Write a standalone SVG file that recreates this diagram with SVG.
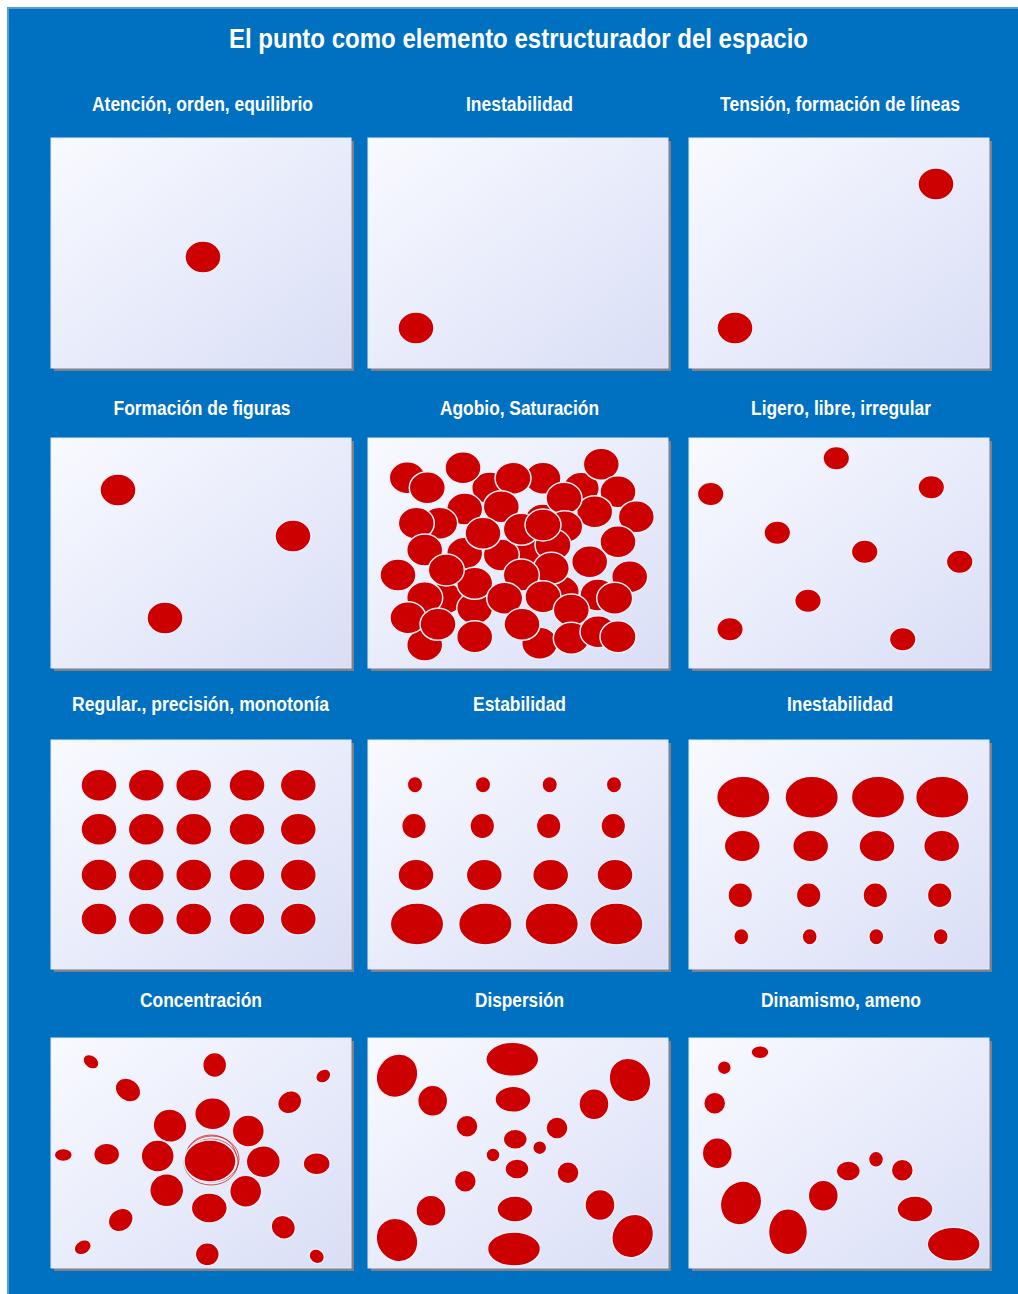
<svg xmlns="http://www.w3.org/2000/svg" width="1018" height="1294" viewBox="0 0 1018 1294">
<defs>
<linearGradient id="pg" x1="0" y1="0" x2="1" y2="1">
<stop offset="0" stop-color="#F9FAFF"/>
<stop offset="1" stop-color="#D9DEF6"/>
</linearGradient>
<style>
.bg{fill:#0070C0;stroke:#5B9BD5;stroke-width:2}
.sh{fill:#80808C}
.pn{fill:url(#pg);stroke:#E4E9F8;stroke-width:1}
.d{fill:#CC0000;stroke:#EAF0FA;stroke-width:1.5}
.ttl{font-family:"Liberation Sans",Arial,sans-serif;font-weight:bold;fill:#FFFFFF;text-anchor:middle}
.t1{font-size:27px}
.t2{font-size:20px}
.ring{fill:none;stroke:#CC0000;stroke-width:0.9;opacity:0.75}
</style>
</defs>
<rect x="0" y="0" width="1018" height="1294" fill="#FFFFFF"/>
<rect class="bg" x="8" y="8" width="1016" height="1292"/>
<text class="ttl t1" x="518.5" y="48" textLength="579" lengthAdjust="spacingAndGlyphs">El punto como elemento estructurador del espacio</text>

<g id="p1">
<text class="ttl t2" x="202.5" y="111" textLength="221" lengthAdjust="spacingAndGlyphs">Atención, orden, equilibrio</text>
<rect class="sh" x="54" y="141" width="300" height="230"/>
<rect class="pn" x="51" y="138" width="300" height="230"/>
<ellipse class="d" cx="203" cy="257" rx="18" ry="16"/>
</g>

<g id="p2">
<text class="ttl t2" x="519.5" y="111" textLength="107" lengthAdjust="spacingAndGlyphs">Inestabilidad</text>
<rect class="sh" x="371" y="141" width="300" height="230"/>
<rect class="pn" x="368" y="138" width="300" height="230"/>
<ellipse class="d" cx="416" cy="328" rx="18" ry="16"/>
</g>

<g id="p3">
<text class="ttl t2" x="840" y="111" textLength="240" lengthAdjust="spacingAndGlyphs">Tensión, formación de líneas</text>
<rect class="sh" x="692" y="141" width="300" height="230"/>
<rect class="pn" x="689" y="138" width="300" height="230"/>
<ellipse class="d" cx="936" cy="184" rx="18" ry="16"/>
<ellipse class="d" cx="735" cy="328" rx="18" ry="16"/>
</g>

<g id="p4">
<text class="ttl t2" x="202" y="415" textLength="177" lengthAdjust="spacingAndGlyphs">Formación de figuras</text>
<rect class="sh" x="54" y="441" width="300" height="230"/>
<rect class="pn" x="51" y="438" width="300" height="230"/>
<ellipse class="d" cx="118" cy="490" rx="18" ry="16"/>
<ellipse class="d" cx="293" cy="536" rx="18" ry="16"/>
<ellipse class="d" cx="165" cy="618" rx="18" ry="16"/>
</g>

<g id="p5">
<text class="ttl t2" x="519.5" y="415" textLength="159" lengthAdjust="spacingAndGlyphs">Agobio, Saturación</text>
<rect class="sh" x="371" y="441" width="300" height="230"/>
<rect class="pn" x="368" y="438" width="300" height="230"/>
<g>
<ellipse class="d" cx="489.7" cy="488" rx="18" ry="16"/>
<ellipse class="d" cx="581.3" cy="488.3" rx="18" ry="16"/>
<ellipse class="d" cx="543" cy="520" rx="18" ry="16"/>
<ellipse class="d" cx="464.7" cy="553.3" rx="18" ry="16"/>
<ellipse class="d" cx="444.7" cy="598.3" rx="18" ry="16"/>
<ellipse class="d" cx="561.3" cy="591.7" rx="18" ry="16"/>
<ellipse class="d" cx="598" cy="595" rx="18" ry="16"/>
<ellipse class="d" cx="474.7" cy="608.3" rx="18" ry="16"/>
<ellipse class="d" cx="407.3" cy="477.7" rx="18" ry="16"/>
<ellipse class="d" cx="463" cy="467.7" rx="18" ry="16"/>
<ellipse class="d" cx="543" cy="478.3" rx="18" ry="16"/>
<ellipse class="d" cx="601.3" cy="464.3" rx="18" ry="16"/>
<ellipse class="d" cx="427.3" cy="487.7" rx="18" ry="16"/>
<ellipse class="d" cx="513" cy="478.3" rx="18" ry="16"/>
<ellipse class="d" cx="618" cy="491.7" rx="18" ry="16"/>
<ellipse class="d" cx="464.7" cy="509" rx="18" ry="16"/>
<ellipse class="d" cx="501.3" cy="506.7" rx="18" ry="16"/>
<ellipse class="d" cx="594.7" cy="511.7" rx="18" ry="16"/>
<ellipse class="d" cx="564" cy="498.3" rx="18" ry="16"/>
<ellipse class="d" cx="636.3" cy="516.7" rx="18" ry="16"/>
<ellipse class="d" cx="439.7" cy="523.3" rx="18" ry="16"/>
<ellipse class="d" cx="416.3" cy="523.3" rx="18" ry="16"/>
<ellipse class="d" cx="564.7" cy="526.7" rx="18" ry="16"/>
<ellipse class="d" cx="618" cy="541.7" rx="18" ry="16"/>
<ellipse class="d" cx="528" cy="550" rx="18" ry="16"/>
<ellipse class="d" cx="501.3" cy="555" rx="18" ry="16"/>
<ellipse class="d" cx="553" cy="545" rx="18" ry="16"/>
<ellipse class="d" cx="521.3" cy="529.3" rx="18" ry="16"/>
<ellipse class="d" cx="543" cy="525" rx="18" ry="16"/>
<ellipse class="d" cx="483" cy="533.3" rx="18" ry="16"/>
<ellipse class="d" cx="424.7" cy="550" rx="18" ry="16"/>
<ellipse class="d" cx="589.7" cy="561.7" rx="18" ry="16"/>
<ellipse class="d" cx="398" cy="575" rx="18" ry="16"/>
<ellipse class="d" cx="474.7" cy="583.3" rx="18" ry="16"/>
<ellipse class="d" cx="551.3" cy="568.3" rx="18" ry="16"/>
<ellipse class="d" cx="629.7" cy="576.7" rx="18" ry="16"/>
<ellipse class="d" cx="446.3" cy="570" rx="18" ry="16"/>
<ellipse class="d" cx="521.3" cy="575" rx="18" ry="16"/>
<ellipse class="d" cx="424.7" cy="597.7" rx="18" ry="16"/>
<ellipse class="d" cx="504.7" cy="598.3" rx="18" ry="16"/>
<ellipse class="d" cx="543" cy="596.7" rx="18" ry="16"/>
<ellipse class="d" cx="571.3" cy="610" rx="18" ry="16"/>
<ellipse class="d" cx="614.7" cy="598.3" rx="18" ry="16"/>
<ellipse class="d" cx="424.7" cy="645" rx="18" ry="16"/>
<ellipse class="d" cx="408" cy="617.7" rx="18" ry="16"/>
<ellipse class="d" cx="438" cy="624.3" rx="18" ry="16"/>
<ellipse class="d" cx="474.7" cy="636.7" rx="18" ry="16"/>
<ellipse class="d" cx="539.7" cy="643.3" rx="18" ry="16"/>
<ellipse class="d" cx="522" cy="624.3" rx="18" ry="16"/>
<ellipse class="d" cx="571.3" cy="638.3" rx="18" ry="16"/>
<ellipse class="d" cx="598" cy="631.7" rx="18" ry="16"/>
<ellipse class="d" cx="618" cy="636.7" rx="18" ry="16"/>
</g>
</g>

<g id="p6">
<text class="ttl t2" x="841" y="415" textLength="180" lengthAdjust="spacingAndGlyphs">Ligero, libre, irregular</text>
<rect class="sh" x="692" y="441" width="300" height="230"/>
<rect class="pn" x="689" y="438" width="300" height="230"/>
<ellipse class="d" cx="836.3" cy="458.3" rx="13.3" ry="11.7"/>
<ellipse class="d" cx="710.7" cy="494" rx="13.3" ry="11.7"/>
<ellipse class="d" cx="931.3" cy="487.3" rx="13.3" ry="11.7"/>
<ellipse class="d" cx="777.3" cy="532.7" rx="13.3" ry="11.7"/>
<ellipse class="d" cx="864.7" cy="551.7" rx="13.3" ry="11.7"/>
<ellipse class="d" cx="959.7" cy="561.7" rx="13.3" ry="11.7"/>
<ellipse class="d" cx="808" cy="600.7" rx="13.3" ry="11.7"/>
<ellipse class="d" cx="730" cy="629.3" rx="13.3" ry="11.7"/>
<ellipse class="d" cx="902.7" cy="639.3" rx="13.3" ry="11.7"/>
</g>

<g id="p7">
<text class="ttl t2" x="200.5" y="711" textLength="257" lengthAdjust="spacingAndGlyphs">Regular., precisión, monotonía</text>
<rect class="sh" x="54" y="743" width="300" height="229"/>
<rect class="pn" x="51" y="740" width="300" height="229"/>
<ellipse class="d" cx="99" cy="785.3" rx="18" ry="16"/>
<ellipse class="d" cx="146.3" cy="785.3" rx="18" ry="16"/>
<ellipse class="d" cx="193.7" cy="785.3" rx="18" ry="16"/>
<ellipse class="d" cx="247" cy="785.3" rx="18" ry="16"/>
<ellipse class="d" cx="298.3" cy="785.3" rx="18" ry="16"/>
<ellipse class="d" cx="99" cy="829.3" rx="18" ry="16"/>
<ellipse class="d" cx="146.3" cy="829.3" rx="18" ry="16"/>
<ellipse class="d" cx="193.7" cy="829.3" rx="18" ry="16"/>
<ellipse class="d" cx="247" cy="829.3" rx="18" ry="16"/>
<ellipse class="d" cx="298.3" cy="829.3" rx="18" ry="16"/>
<ellipse class="d" cx="99" cy="875" rx="18" ry="16"/>
<ellipse class="d" cx="146.3" cy="875" rx="18" ry="16"/>
<ellipse class="d" cx="193.7" cy="875" rx="18" ry="16"/>
<ellipse class="d" cx="247" cy="875" rx="18" ry="16"/>
<ellipse class="d" cx="298.3" cy="875" rx="18" ry="16"/>
<ellipse class="d" cx="99" cy="919" rx="18" ry="16"/>
<ellipse class="d" cx="146.3" cy="919" rx="18" ry="16"/>
<ellipse class="d" cx="193.7" cy="919" rx="18" ry="16"/>
<ellipse class="d" cx="247" cy="919" rx="18" ry="16"/>
<ellipse class="d" cx="298.3" cy="919" rx="18" ry="16"/>
</g>

<g id="p8">
<text class="ttl t2" x="519.5" y="711" textLength="93" lengthAdjust="spacingAndGlyphs">Estabilidad</text>
<rect class="sh" x="371" y="743" width="300" height="229"/>
<rect class="pn" x="368" y="740" width="300" height="229"/>
<ellipse class="d" cx="415" cy="784.7" rx="7.7" ry="8.3"/>
<ellipse class="d" cx="483" cy="784.7" rx="7.7" ry="8.3"/>
<ellipse class="d" cx="549.7" cy="784.7" rx="7.7" ry="8.3"/>
<ellipse class="d" cx="614" cy="784.7" rx="7.7" ry="8.3"/>
<ellipse class="d" cx="414" cy="826" rx="12.3" ry="12.7"/>
<ellipse class="d" cx="482.3" cy="826" rx="12.3" ry="12.7"/>
<ellipse class="d" cx="548.7" cy="826" rx="12.3" ry="12.7"/>
<ellipse class="d" cx="613.3" cy="826" rx="12.3" ry="12.7"/>
<ellipse class="d" cx="416" cy="875" rx="18" ry="15.7"/>
<ellipse class="d" cx="484.3" cy="875" rx="18" ry="15.7"/>
<ellipse class="d" cx="550.7" cy="875" rx="18" ry="15.7"/>
<ellipse class="d" cx="615" cy="875" rx="18" ry="15.7"/>
<ellipse class="d" cx="417" cy="924" rx="26.7" ry="21"/>
<ellipse class="d" cx="485.3" cy="924" rx="26.7" ry="21"/>
<ellipse class="d" cx="551.7" cy="924" rx="26.7" ry="21"/>
<ellipse class="d" cx="616.3" cy="924" rx="26.7" ry="21"/>
</g>

<g id="p9">
<text class="ttl t2" x="840" y="711" textLength="106" lengthAdjust="spacingAndGlyphs">Inestabilidad</text>
<rect class="sh" x="692" y="743" width="300" height="229"/>
<rect class="pn" x="689" y="740" width="300" height="229"/>
<ellipse class="d" cx="743.3" cy="797.3" rx="26.7" ry="21"/>
<ellipse class="d" cx="811.7" cy="797.3" rx="26.7" ry="21"/>
<ellipse class="d" cx="878" cy="797.3" rx="26.7" ry="21"/>
<ellipse class="d" cx="942.3" cy="797.3" rx="26.7" ry="21"/>
<ellipse class="d" cx="742.3" cy="846" rx="18" ry="15.7"/>
<ellipse class="d" cx="810.7" cy="846" rx="18" ry="15.7"/>
<ellipse class="d" cx="877" cy="846" rx="18" ry="15.7"/>
<ellipse class="d" cx="941.7" cy="846" rx="18" ry="15.7"/>
<ellipse class="d" cx="740.3" cy="895.3" rx="12.3" ry="12.5"/>
<ellipse class="d" cx="808.7" cy="895.3" rx="12.3" ry="12.5"/>
<ellipse class="d" cx="875.3" cy="895.3" rx="12.3" ry="12.5"/>
<ellipse class="d" cx="939.7" cy="895.3" rx="12.3" ry="12.5"/>
<ellipse class="d" cx="741.3" cy="936.7" rx="7.5" ry="8.3"/>
<ellipse class="d" cx="809.7" cy="936.7" rx="7.5" ry="8.3"/>
<ellipse class="d" cx="876.3" cy="936.7" rx="7.5" ry="8.3"/>
<ellipse class="d" cx="940.7" cy="936.7" rx="7.5" ry="8.3"/>
</g>

<g id="p10">
<text class="ttl t2" x="201" y="1007" textLength="122" lengthAdjust="spacingAndGlyphs">Concentración</text>
<rect class="sh" x="54" y="1041" width="300" height="230"/>
<rect class="pn" x="51" y="1038" width="300" height="230"/>
<ellipse class="d" cx="91" cy="1061.7" rx="8.7" ry="6.5" transform="rotate(35 91 1061.7)"/>
<ellipse class="d" cx="214.7" cy="1065" rx="12" ry="12.5"/>
<ellipse class="d" cx="323.3" cy="1076" rx="8" ry="6.5" transform="rotate(-35 323.3 1076)"/>
<ellipse class="d" cx="128" cy="1090" rx="13.5" ry="11" transform="rotate(35 128 1090)"/>
<ellipse class="d" cx="289.7" cy="1102.3" rx="12.5" ry="11" transform="rotate(-35 289.7 1102.3)"/>
<ellipse class="d" cx="212.7" cy="1113.7" rx="18" ry="16"/>
<ellipse class="d" cx="170" cy="1125.7" rx="17" ry="16.5" transform="rotate(30 170 1125.7)"/>
<ellipse class="d" cx="248.3" cy="1131" rx="16" ry="16"/>
<ellipse class="d" cx="157.7" cy="1156" rx="16.5" ry="16"/>
<ellipse class="d" cx="263.3" cy="1161.7" rx="17" ry="16"/>
<ellipse class="d" cx="106.7" cy="1154.3" rx="13" ry="11"/>
<ellipse class="d" cx="63.3" cy="1155" rx="9" ry="6.5"/>
<ellipse class="d" cx="316.7" cy="1163.7" rx="13.5" ry="11"/>
<ellipse class="d" cx="166.7" cy="1190.3" rx="17" ry="16.5"/>
<ellipse class="d" cx="245.7" cy="1191.3" rx="16" ry="16"/>
<ellipse class="d" cx="209.3" cy="1208" rx="18" ry="15"/>
<ellipse class="d" cx="120.7" cy="1220" rx="13" ry="11" transform="rotate(-35 120.7 1220)"/>
<ellipse class="d" cx="283.3" cy="1227.3" rx="12.5" ry="11.5" transform="rotate(40 283.3 1227.3)"/>
<ellipse class="d" cx="82.7" cy="1247.3" rx="9" ry="7" transform="rotate(-30 82.7 1247.3)"/>
<ellipse class="d" cx="207.3" cy="1254.3" rx="12" ry="11.5"/>
<ellipse class="d" cx="316.7" cy="1256.3" rx="8" ry="7" transform="rotate(35 316.7 1256.3)"/>
<ellipse class="ring" cx="211" cy="1157" rx="25" ry="22"/>
<ellipse class="ring" cx="212" cy="1159" rx="27" ry="23"/>
<ellipse class="ring" cx="211" cy="1162" rx="27" ry="23"/>
<ellipse class="d" cx="210" cy="1161" rx="26" ry="21"/>
</g>

<g id="p11">
<text class="ttl t2" x="519.5" y="1007" textLength="89" lengthAdjust="spacingAndGlyphs">Dispersión</text>
<rect class="sh" x="371" y="1041" width="300" height="230"/>
<rect class="pn" x="368" y="1038" width="300" height="230"/>
<ellipse class="d" cx="397" cy="1075.7" rx="20" ry="22.5" transform="rotate(35 397 1075.7)"/>
<ellipse class="d" cx="512.3" cy="1059.3" rx="26.5" ry="17"/>
<ellipse class="d" cx="630" cy="1080" rx="20" ry="22.5" transform="rotate(-35 630 1080)"/>
<ellipse class="d" cx="432.7" cy="1100.7" rx="15" ry="15.5"/>
<ellipse class="d" cx="513" cy="1099.3" rx="18" ry="13"/>
<ellipse class="d" cx="594" cy="1104.3" rx="15" ry="15.5"/>
<ellipse class="d" cx="467" cy="1126.3" rx="11" ry="11"/>
<ellipse class="d" cx="557" cy="1128" rx="11" ry="11"/>
<ellipse class="d" cx="515.3" cy="1139.3" rx="12" ry="10"/>
<ellipse class="d" cx="539.7" cy="1147.7" rx="7" ry="7"/>
<ellipse class="d" cx="493" cy="1155" rx="7" ry="7"/>
<ellipse class="d" cx="517" cy="1169" rx="12" ry="10"/>
<ellipse class="d" cx="568" cy="1172.7" rx="11" ry="11"/>
<ellipse class="d" cx="465.3" cy="1181.3" rx="11" ry="11"/>
<ellipse class="d" cx="431" cy="1210.7" rx="15" ry="15.5"/>
<ellipse class="d" cx="515" cy="1209" rx="18" ry="13"/>
<ellipse class="d" cx="600" cy="1205" rx="15" ry="15.5"/>
<ellipse class="d" cx="397" cy="1240" rx="20" ry="22.5" transform="rotate(-35 397 1240)"/>
<ellipse class="d" cx="514" cy="1249" rx="26.5" ry="17"/>
<ellipse class="d" cx="632.7" cy="1236" rx="20" ry="22.5" transform="rotate(35 632.7 1236)"/>
</g>

<g id="p12">
<text class="ttl t2" x="841" y="1007" textLength="160" lengthAdjust="spacingAndGlyphs">Dinamismo, ameno</text>
<rect class="sh" x="692" y="1041" width="300" height="230"/>
<rect class="pn" x="689" y="1038" width="300" height="230"/>
<ellipse class="d" cx="760" cy="1052.3" rx="9" ry="6.5"/>
<ellipse class="d" cx="724.3" cy="1067.7" rx="7" ry="7"/>
<ellipse class="d" cx="714.7" cy="1103.3" rx="11" ry="11"/>
<ellipse class="d" cx="717.3" cy="1153.3" rx="15" ry="15.5"/>
<ellipse class="d" cx="741" cy="1203" rx="20" ry="22.5" transform="rotate(30 741 1203)"/>
<ellipse class="d" cx="788" cy="1231.7" rx="19.5" ry="23"/>
<ellipse class="d" cx="823.3" cy="1195.7" rx="15" ry="15.5"/>
<ellipse class="d" cx="848.3" cy="1171" rx="12" ry="10"/>
<ellipse class="d" cx="876" cy="1159.3" rx="7.5" ry="8"/>
<ellipse class="d" cx="902.3" cy="1170.3" rx="11" ry="11"/>
<ellipse class="d" cx="915" cy="1209" rx="18" ry="13"/>
<ellipse class="d" cx="953.7" cy="1244.3" rx="26.5" ry="17"/>
</g>
</svg>
